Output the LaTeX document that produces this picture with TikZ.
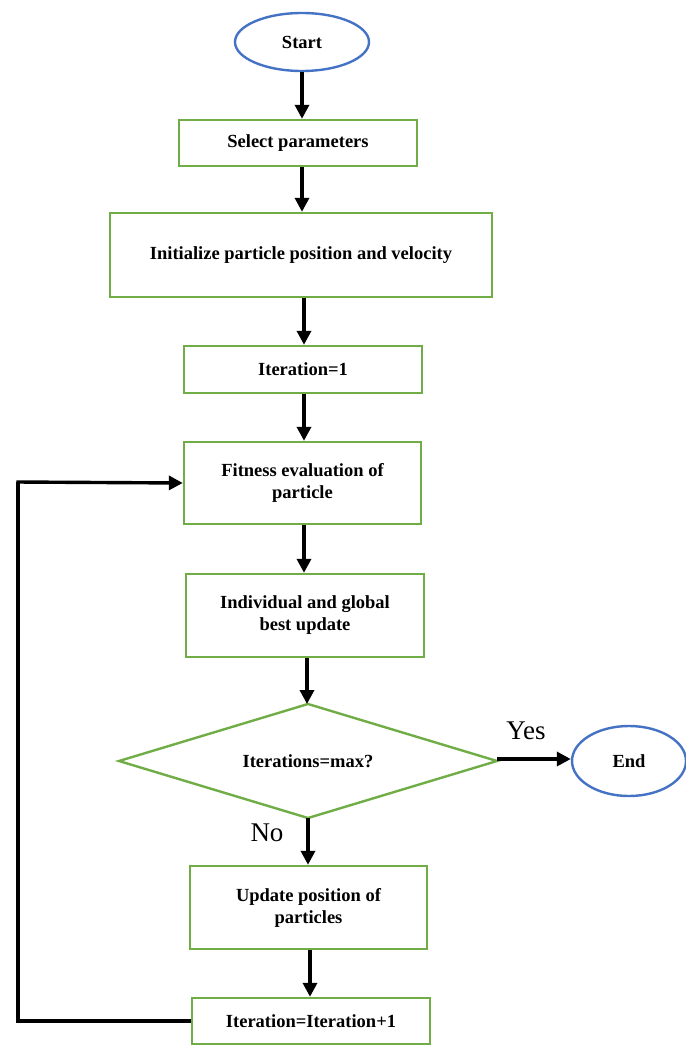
\documentclass[tikz,border=0pt]{standalone}
\usepackage{fontspec}
\setmainfont{Liberation Serif}
\usetikzlibrary{shapes.geometric,arrows.meta,calc}
\definecolor{boxgreen}{RGB}{112,173,71}
\definecolor{ellblue}{RGB}{68,114,196}
\begin{document}
\begin{tikzpicture}[x=1pt,y=1pt,
  every node/.style={font=\fontsize{18.5}{22}\selectfont\bfseries, align=center, inner sep=0pt},
  procbox/.style={draw=boxgreen, line width=2.4pt, rectangle},
  term/.style={draw=ellblue, line width=2.4pt, ellipse},
  decideline/.style={draw=boxgreen, line width=2.4pt, line join=miter},
  flow/.style={line width=3.4pt, -{Triangle[length=14pt,width=14pt]}},
  lbl/.style={font=\fontsize{27}{30}\selectfont\mdseries}
]
\useasboundingbox (0,0) rectangle (685,-1046);
\node[term, minimum width=134, minimum height=58] (start) at (302,-42) {Start};
\node[procbox, minimum width=238, minimum height=46] (select) at (298,-143) {Select parameters};
\node[procbox, minimum width=382, minimum height=84] (init) at (301,-255) {Initialize particle position and velocity};
\node[procbox, minimum width=238, minimum height=47] (iter1) at (303,-369.5) {Iteration=1};
\node[procbox, minimum width=237, minimum height=82] (fit) at (302.5,-483) {Fitness evaluation of\\particle};
\node[procbox, minimum width=238, minimum height=83] (indiv) at (305,-615.5) {Individual and global\\best update};
\node (dec) at (308,-761) {Iterations=max?};
\coordinate (decn) at (308,-704);
\coordinate (dece) at (497,-761);
\coordinate (decs) at (308,-818);
\coordinate (decw) at (119,-761);
\draw[decideline] (decn) -- (dece) -- (decs) -- (decw) -- cycle;
\node[term, minimum width=114, minimum height=70] (end) at (629,-761) {End};
\node[procbox, minimum width=237, minimum height=83] (upd) at (308.5,-907.5) {Update position of\\particles};
\node[procbox, minimum width=238, minimum height=46] (iterinc) at (311,-1021) {Iteration=Iteration+1};
\node[lbl] (yes) at (526,-731) {Yes};
\node[lbl] (no) at (267,-833) {No};
\coordinate (lb) at (18,-1021);
\coordinate (lt) at (18,-482);

\draw[flow] (start.south) -- (start.south |- select.north);
\draw[flow] ([xshift=4pt]select.south) -- ([xshift=4pt]select.south |- init.north);
\draw[flow] ([xshift=3pt]init.south) -- ([xshift=3pt]init.south |- iter1.north);
\draw[flow] ([xshift=1pt]iter1.south) -- ([xshift=1pt]iter1.south |- fit.north);
\draw[flow] ([xshift=1.5pt]fit.south) -- ([xshift=1.5pt]fit.south |- indiv.north);
\draw[flow] ([xshift=2pt]indiv.south) -- ([xshift=2pt]indiv.south |- decn);
\draw[flow] ([yshift=2pt]dece) -- ([yshift=2pt]end.west);
\draw[flow] (decs) -- (decs |- upd.north);
\draw[flow] ([xshift=1.5pt]upd.south) -- ([xshift=1.5pt]upd.south |- iterinc.north);
\draw[line width=3.4pt] (iterinc.west) -- (lb) -- (lt);
\draw[flow] ([xshift=-1.7pt]lt) -- (fit.west);
\end{tikzpicture}
\end{document}
